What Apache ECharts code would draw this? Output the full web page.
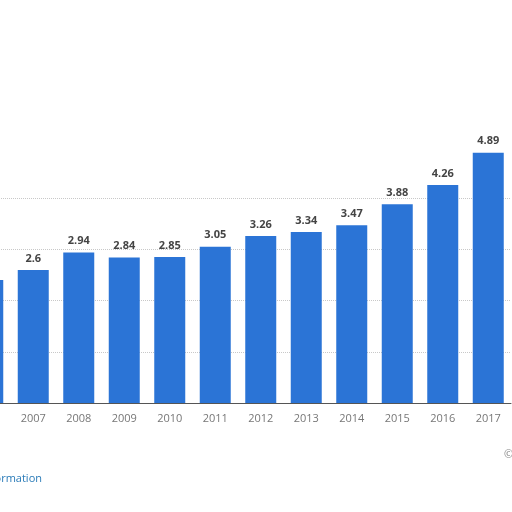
<!DOCTYPE html>
<html>
<head>
<meta charset="utf-8">
<script src="https://cdn.jsdelivr.net/npm/echarts@6/dist/echarts.min.js"></script>
<style>
  html, body { margin: 0; padding: 0; background: #fff; overflow: hidden; }
  #wrap { width: 512px; height: 512px; overflow: hidden; position: relative; }
  /* chart is wider than the window and shifted left: the 2006 bar is cut off like in the screenshot */
  #chart { width: 547px; height: 512px; position: absolute; left: -35px; top: 0; }
</style>
</head>
<body>
<div id="wrap"><div id="chart"></div></div>
<script>
// years; 2006 is cut off at the left edge of the picture
const years = ['2006', '2007', '2008', '2009', '2010', '2011', '2012', '2013', '2014', '2015', '2016', '2017'];
const values = [2.4, 2.6, 2.94, 2.84, 2.85, 3.05, 3.26, 3.34, 3.47, 3.88, 4.26, 4.89];
// 2006 label is out of the frame
const showLabel = [false, true, true, true, true, true, true, true, true, true, true, true];

const chart = echarts.init(document.getElementById('chart'));

const option = {
  backgroundColor: '#fff',
  animation: false,
  grid: { left: 0, right: 1, top: 147, bottom: 109, containLabel: false },
  xAxis: {
    type: 'category',
    data: years,
    axisTick: { show: false },
    axisLine: { lineStyle: { color: '#555', width: 1 } },
    axisLabel: { color: '#777', fontSize: 11, fontFamily: 'Open Sans', margin: 10 }
  },
  yAxis: {
    type: 'value',
    min: 0,
    max: 5,
    interval: 1,
    axisLabel: { show: false },
    axisLine: { show: false },
    axisTick: { show: false },
    splitLine: { showMaxLine: false, lineStyle: { color: '#c8c8c8', type: 'dotted' } }
  },
  series: [{
    type: 'bar',
    barWidth: 31,
    data: values.map((v, i) => ({ value: v, label: { show: showLabel[i] } })),
    itemStyle: { color: '#2b74d6' },
    label: {
      position: 'top',
      distance: 6,
      color: '#444',
      fontSize: 11,
      fontWeight: 'bold',
      fontFamily: 'Open Sans'
    }
  }],
  graphic: [
    {
      type: 'text', left: -39, top: 473,
      style: { text: 'Additional Information', fill: '#2a7bb8', fontSize: 11, fontFamily: 'Open Sans' }
    },
    {
      type: 'text', left: 539, top: 449,
      style: { text: '© Statista 2018', fill: '#888', fontSize: 11, fontFamily: 'Open Sans' }
    }
  ]
};

chart.setOption(option);
</script>
</body>
</html>
